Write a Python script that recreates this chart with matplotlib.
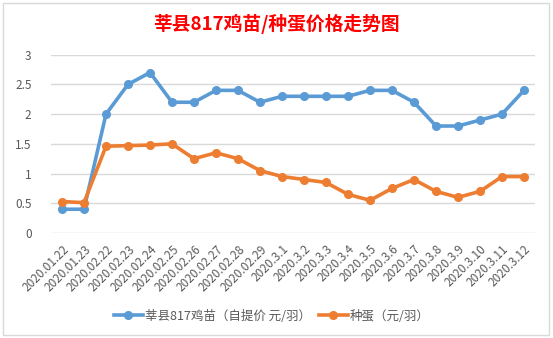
import matplotlib.pyplot as plt
from matplotlib.patches import Rectangle

plt.rcParams['font.family'] = ['Noto Sans CJK SC', 'DejaVu Sans']

dates = ['2020.01.22', '2020.01.23', '2020.02.22', '2020.02.23', '2020.02.24',
         '2020.02.25', '2020.02.26', '2020.02.27', '2020.02.28', '2020.02.29',
         '2020.3.1', '2020.3.2', '2020.3.3', '2020.3.4', '2020.3.5', '2020.3.6',
         '2020.3.7', '2020.3.8', '2020.3.9', '2020.3.10', '2020.3.11', '2020.3.12']
chick = [0.4, 0.4, 2.0, 2.5, 2.7, 2.2, 2.2, 2.4, 2.4, 2.2, 2.3, 2.3,
         2.3, 2.3, 2.4, 2.4, 2.2, 1.8, 1.8, 1.9, 2.0, 2.4]
egg = [0.53, 0.51, 1.46, 1.47, 1.48, 1.5, 1.25, 1.35, 1.25, 1.05, 0.95, 0.9,
       0.85, 0.65, 0.55, 0.75, 0.9, 0.7, 0.6, 0.7, 0.95, 0.95]
yticks = [0, 0.5, 1, 1.5, 2, 2.5, 3]
ytick_labels = ['0', '0.5', '1', '1.5', '2', '2.5', '3']

fig = plt.figure(figsize=(5.53, 3.38), dpi=100)

# chart frame
fig.patches.append(Rectangle((3 / 553, 3 / 338), 546 / 553, 332 / 338,
                             transform=fig.transFigure, fill=False,
                             edgecolor='#D9D9D9', linewidth=1))

ax = fig.add_axes([51 / 553, 105 / 338, 484 / 553, 178.3 / 338])
x = list(range(len(dates)))
ax.plot(x, chick, color='#5B9BD5', linewidth=2.6, marker='o', markersize=5.5,
        label='莘县817鸡苗（自提价 元/羽）')
ax.plot(x, egg, color='#ED7D31', linewidth=2.6, marker='o', markersize=5.5,
        label='种蛋（元/羽）')

ax.set_xlim(-0.5, len(dates) - 0.5)
ax.set_ylim(0, 3)
ax.set_yticks(yticks)
ax.set_yticklabels(ytick_labels)
ax.set_xticks(x)
ax.set_xticklabels(dates, rotation=45, ha='right', va='top', rotation_mode='anchor')
ax.tick_params(axis='both', length=0, labelsize=8.5, colors='#595959')
ax.tick_params(axis='y', pad=14)
ax.tick_params(axis='x', pad=7)
ax.grid(axis='y', color='#D9D9D9', linewidth=1)
ax.set_axisbelow(True)
for s in ax.spines.values():
    s.set_visible(False)

fig.text(276 / 553, 1 - 24 / 338, '莘县817鸡苗/种蛋价格走势图', ha='center', va='center',
         color='#FF0000', fontsize=13.5, fontweight='bold')

fig.legend(loc='center', bbox_to_anchor=(272 / 553, 1 - 316 / 338), ncol=2, frameon=False,
           fontsize=9, labelcolor='#595959', handlelength=2.3, columnspacing=0.6,
           handletextpad=0.2)

fig.savefig('out.png', dpi=100)
